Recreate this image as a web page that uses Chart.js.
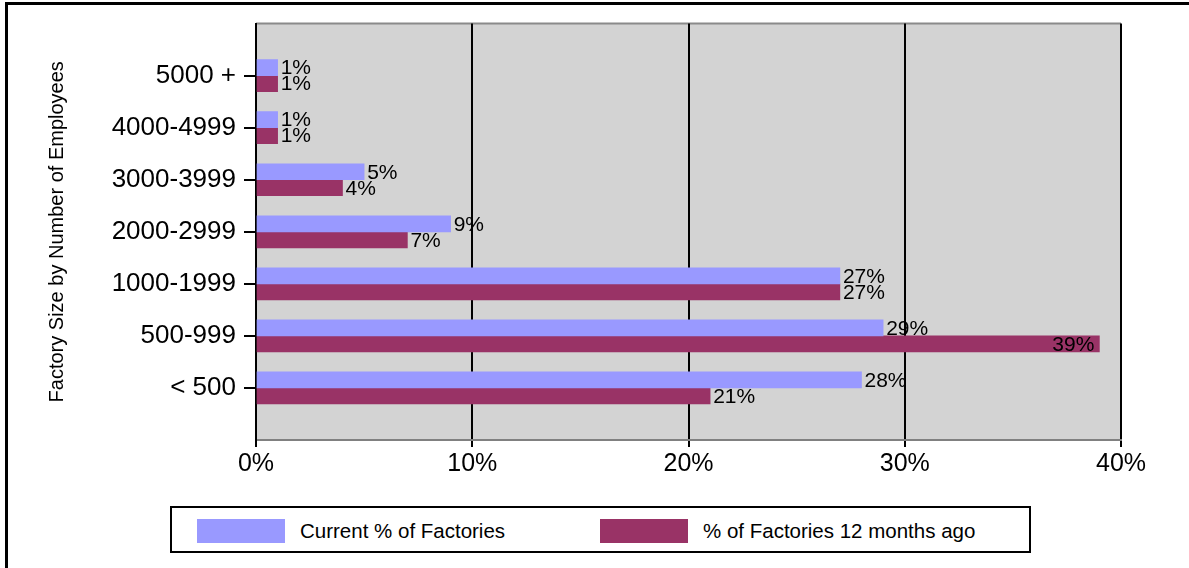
<!DOCTYPE html>
<html>
<head>
<meta charset="utf-8">
<script src="https://cdn.jsdelivr.net/npm/chart.js@4/dist/chart.umd.min.js"></script>
<style>
    html, body { margin: 0; padding: 0; background: #fff; overflow: hidden; }
    body { width: 1189px; height: 568px; position: relative; font-family: "Liberation Sans", Arial, sans-serif; }
    #frame {
        position: absolute; left: 5px; top: 2px; width: 1300px; height: 700px;
        border-left: 3px solid #000; border-top: 3px solid #000; box-sizing: border-box;
    }
    #wrap { position: absolute; left: 0; top: 0; width: 1189px; height: 568px; }
    #legend {
        position: absolute; left: 170px; top: 506px; width: 861px; height: 47px;
        border: 2px solid #000; box-sizing: border-box; background: #fff;
        display: flex; align-items: center; padding-left: 25px; padding-top: 2px;
    }
    .item { display: flex; align-items: center; font-size: 20.5px; color: #000; }
    .item:first-child { width: 403px; }
    .swatch { width: 88px; height: 24px; margin-right: 15px; }
</style>
</head>
<body>
<div id="frame"></div>
<div id="wrap"><canvas id="factoryChart"></canvas></div>
<div id="legend"></div>
<script>
const sizeBands = ["5000 +", "4000-4999", "3000-3999", "2000-2999", "1000-1999", "500-999", "< 500"];
const currentShare = [1, 1, 5, 9, 27, 29, 28];
const shareYearAgo = [1, 1, 4, 7, 27, 39, 21];
const xTicks = [0, 10, 20, 30, 40];

// empty slot above and below so the bands sit one full step in from the plot edges
const yLabels = [""].concat(sizeBands, [""]);
const pad = arr => [null].concat(arr, [null]);

const plotBackground = {
    id: "plotBackground",
    beforeDraw(chart) {
        const { ctx, chartArea: a } = chart;
        ctx.save();
        ctx.fillStyle = "#d3d3d3";
        ctx.fillRect(a.left, a.top, a.right - a.left, a.bottom - a.top);
        ctx.strokeStyle = "#8a8a8a";
        ctx.lineWidth = 2;
        ctx.beginPath();
        ctx.moveTo(a.left, a.top);
        ctx.lineTo(a.right, a.top);
        ctx.stroke();
        ctx.restore();
    }
};

const barValues = {
    id: "barValues",
    afterDatasetsDraw(chart) {
        const { ctx, chartArea: a } = chart;
        ctx.save();
        ctx.font = "21px 'Liberation Sans', Arial, sans-serif";
        ctx.fillStyle = "#000";
        ctx.textBaseline = "middle";
        chart.data.datasets.forEach((ds, i) => {
            chart.getDatasetMeta(i).data.forEach((bar, j) => {
                const v = ds.data[j];
                if (v === null) return;
                const text = v + "%";
                const w = ctx.measureText(text).width;
                if (bar.x + 3 + w > a.right - 2) {
                    ctx.textAlign = "right";
                    ctx.fillText(text, bar.x - 5, bar.y + 1);
                } else {
                    ctx.textAlign = "left";
                    ctx.fillText(text, bar.x + 3, bar.y + 1);
                }
            });
        });
        ctx.restore();
    }
};

const ctx = document.getElementById("factoryChart").getContext("2d");
const factoryChart = new Chart(ctx, {
    type: "bar",
    data: {
        labels: yLabels,
        datasets: [
            {
                label: "Current % of Factories",
                data: pad(currentShare),
                backgroundColor: "#9999ff",
                barThickness: 16,
            },
            {
                label: "% of Factories 12 months ago",
                data: pad(shareYearAgo),
                backgroundColor: "#993366",
                barThickness: 16,
            },
        ],
    },
    options: {
        indexAxis: "y",
        responsive: true,
        maintainAspectRatio: false,
        animation: false,
        layout: { padding: { left: 41, top: 19, right: 68, bottom: 0 } },
        plugins: {
            legend: { display: false },
            tooltip: { enabled: false },
        },
        scales: {
            x: {
                min: xTicks[0],
                max: xTicks[xTicks.length - 1],
                afterBuildTicks: scale => { scale.ticks = xTicks.map(v => ({ value: v })); },
                afterFit: scale => { scale.height = 128; },
                grid: { color: "#000", lineWidth: 2, tickLength: 7, tickColor: "#000" },
                border: { color: "#808080", width: 2 },
                ticks: {
                    color: "#000",
                    padding: 2,
                    font: { family: "'Liberation Sans', Arial, sans-serif", size: 25 },
                    callback: v => v + "%",
                },
            },
            y: {
                offset: false,
                afterFit: scale => { scale.width = 256 - 41; },
                grid: {
                    offset: false,
                    drawOnChartArea: false,
                    lineWidth: 2,
                    tickLength: 12,
                    tickColor: c => (c.tick && c.tick.label ? "#000" : "rgba(0,0,0,0)"),
                },
                border: { color: "#000", width: 2 },
                ticks: {
                    color: "#000",
                    padding: 8,
                    autoSkip: false,
                    font: { family: "'Liberation Sans', Arial, sans-serif", size: 26 },
                },
                title: {
                    display: true,
                    text: "Factory Size by Number of Employees",
                    color: "#000",
                    padding: 4,
                    font: { family: "'Liberation Sans', Arial, sans-serif", size: 20 },
                },
            },
        },
    },
    plugins: [plotBackground, barValues],
});

// legend row built from the chart's own datasets
const legendBox = document.getElementById("legend");
factoryChart.data.datasets.forEach(ds => {
    const item = document.createElement("div");
    item.className = "item";
    const sw = document.createElement("span");
    sw.className = "swatch";
    sw.style.background = ds.backgroundColor;
    const label = document.createElement("span");
    label.textContent = ds.label;
    item.appendChild(sw);
    item.appendChild(label);
    legendBox.appendChild(item);
});
</script>
</body>
</html>
